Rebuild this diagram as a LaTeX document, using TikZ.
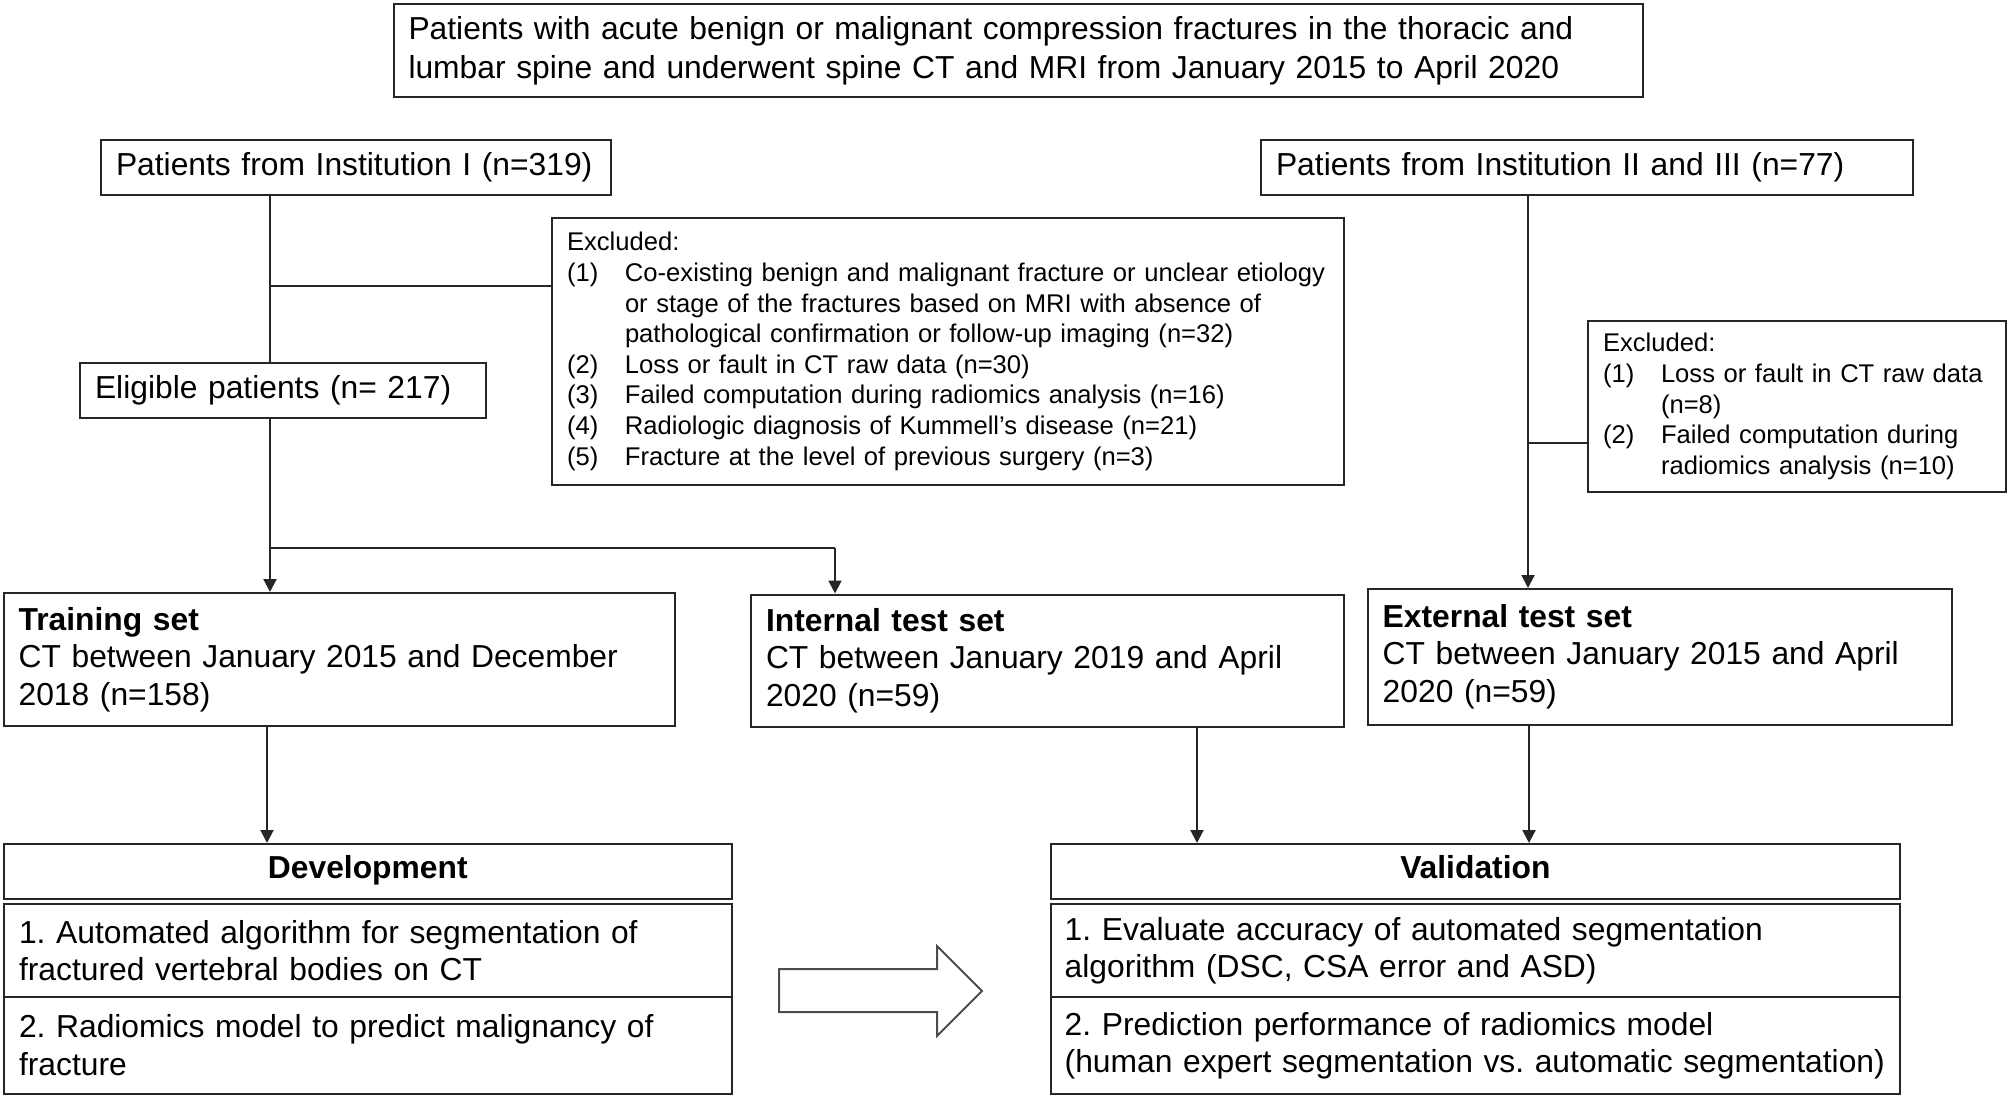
\documentclass[tikz,border=0pt]{standalone}
\usepackage{fontspec}
\setmainfont{Liberation Sans}
\usetikzlibrary{arrows.meta}
\frenchspacing
\hyphenpenalty=10000
\exhyphenpenalty=10000
\newcommand{\xitem}[1]{\makebox[29pt][l]{#1}}
\newcommand{\xcont}{\hspace*{29pt}}
\begin{document}
\begin{tikzpicture}[x=0.5pt,y=-0.5pt,
  box/.style={draw=black!85,line width=1pt,anchor=north west,inner ysep=0pt,inner xsep=7.5pt,
    font=\fontsize{15.9}{18.7}\selectfont,align=left},
  small/.style={font=\fontsize{12.8}{15.3}\selectfont},
  head/.style={align=center,font=\fontsize{15.9}{18.7}\selectfont\bfseries},
  conn/.style={draw=black!85,line width=1pt},
  arr/.style={conn,-{Triangle[length=6.5pt,width=6.5pt]}}]
\useasboundingbox (0,0) rectangle (2007,1096);

% boxes
\node[box,minimum width=624.75pt,text width=609.75pt,minimum height=46.5pt,font=\fontsize{15.9}{19.3}\selectfont] (title) at (392.5,3)
  {Patients with acute benign or malignant compression fractures in the thoracic and\\lumbar spine and underwent spine CT and MRI from January 2015 to April 2020};
\node[box,minimum width=254.75pt,text width=239.75pt,minimum height=27.5pt] (inst1) at (100,139)
  {Patients from Institution I (n=319)};
\node[box,minimum width=326pt,text width=311pt,minimum height=27.5pt] (inst2) at (1260,139)
  {Patients from Institution II and III (n=77)};
\node[box,small,minimum width=396pt,text width=381pt,minimum height=133.65pt] (excl1) at (551,216.7)
  {Excluded:\\
   \xitem{(1)}Co-existing benign and malignant fracture or unclear etiology\\
   \xcont or stage of the fractures based on MRI with absence of\\
   \xcont pathological confirmation or follow-up imaging (n=32)\\
   \xitem{(2)}Loss or fault in CT raw data (n=30)\\
   \xitem{(3)}Failed computation during radiomics analysis (n=16)\\
   \xitem{(4)}Radiologic diagnosis of Kummell’s disease (n=21)\\
   \xitem{(5)}Fracture at the level of previous surgery (n=3)};
\node[box,minimum width=203pt,text width=188pt,minimum height=27.5pt] (elig) at (79,362)
  {Eligible patients (n= 217)};
\node[box,small,minimum width=209pt,text width=194pt,minimum height=85.5pt] (excl2) at (1587,320)
  {Excluded:\\
   \xitem{(1)}Loss or fault in CT raw data\\
   \xcont(n=8)\\
   \xitem{(2)}Failed computation during\\
   \xcont radiomics analysis (n=10)};
\node[box,minimum width=335.7pt,text width=320.7pt,minimum height=66.5pt] (train) at (2.6,592)
  {\textbf{Training set}\\CT between January 2015 and December\\2018 (n=158)};
\node[box,minimum width=296.5pt,text width=281.5pt,minimum height=66.25pt] (intl) at (750,593.5)
  {\textbf{Internal test set}\\CT between January 2019 and April\\2020 (n=59)};
\node[box,minimum width=292.15pt,text width=277.15pt,minimum height=67.75pt] (extl) at (1366.7,588)
  {\textbf{External test set}\\CT between January 2015 and April\\2020 (n=59)};
\node[box,head,minimum width=363.8pt,text width=348.8pt,minimum height=27.25pt] (dev) at (3,843)
  {\strut Development};
\node[box,minimum width=363.8pt,text width=348.8pt,minimum height=46.5pt] (dev1) at (3,903)
  {1. Automated algorithm for segmentation of\\fractured vertebral bodies on CT};
\node[box,minimum width=363.8pt,text width=348.8pt,minimum height=48.3pt] (dev2) at (3,996)
  {2. Radiomics model to predict malignancy of\\fracture};
\node[box,head,minimum width=424.65pt,text width=410.65pt,inner xsep=7pt,minimum height=27.5pt] (val) at (1049.7,843)
  {\strut Validation};
\node[box,minimum width=424.65pt,text width=410.65pt,inner xsep=7pt,minimum height=46.5pt] (val1) at (1049.7,903)
  {1. Evaluate accuracy of automated segmentation\\algorithm (DSC, CSA error and ASD)};
\node[box,minimum width=424.65pt,text width=410.65pt,inner xsep=7pt,minimum height=48.5pt] (val2) at (1049.7,996)
  {2. Prediction performance of radiomics model\\(human expert segmentation vs. automatic segmentation)};

% connectors, left branch
\coordinate (jx) at (270,285.6);
\coordinate (jy) at (270,548);
\coordinate (jr) at (835,548);
\draw[conn] (inst1.south -| jx) -- (elig.north -| jx);
\draw[conn] (jx) -- (jx -| excl1.west);
\draw[conn] (elig.south -| jy) -- (jy) -- (jr);
\draw[arr] (jy) -- (train.north -| jy);
\draw[arr] (jr) -- (intl.north -| jr);
% right branch
\coordinate (kx) at (1528,443);
\draw[arr] (inst2.south -| kx) -- (extl.north -| kx);
\draw[conn] (kx) -- (kx -| excl2.west);
% to development / validation
\coordinate (c1) at (267,0);
\coordinate (c2) at (1197,0);
\coordinate (c3) at (1529,0);
\draw[arr] (train.south -| c1) -- (dev.north -| c1);
\draw[arr] (intl.south -| c2) -- (val.north -| c2);
\draw[arr] (extl.south -| c3) -- (val.north -| c3);

% block arrow
\draw[line width=1pt,draw=black!70,line join=miter]
  (779,969) -- (937,969) -- (937,946) -- (982,991) -- (937,1036) -- (937,1012) -- (779,1012) -- cycle;
\end{tikzpicture}
\end{document}
